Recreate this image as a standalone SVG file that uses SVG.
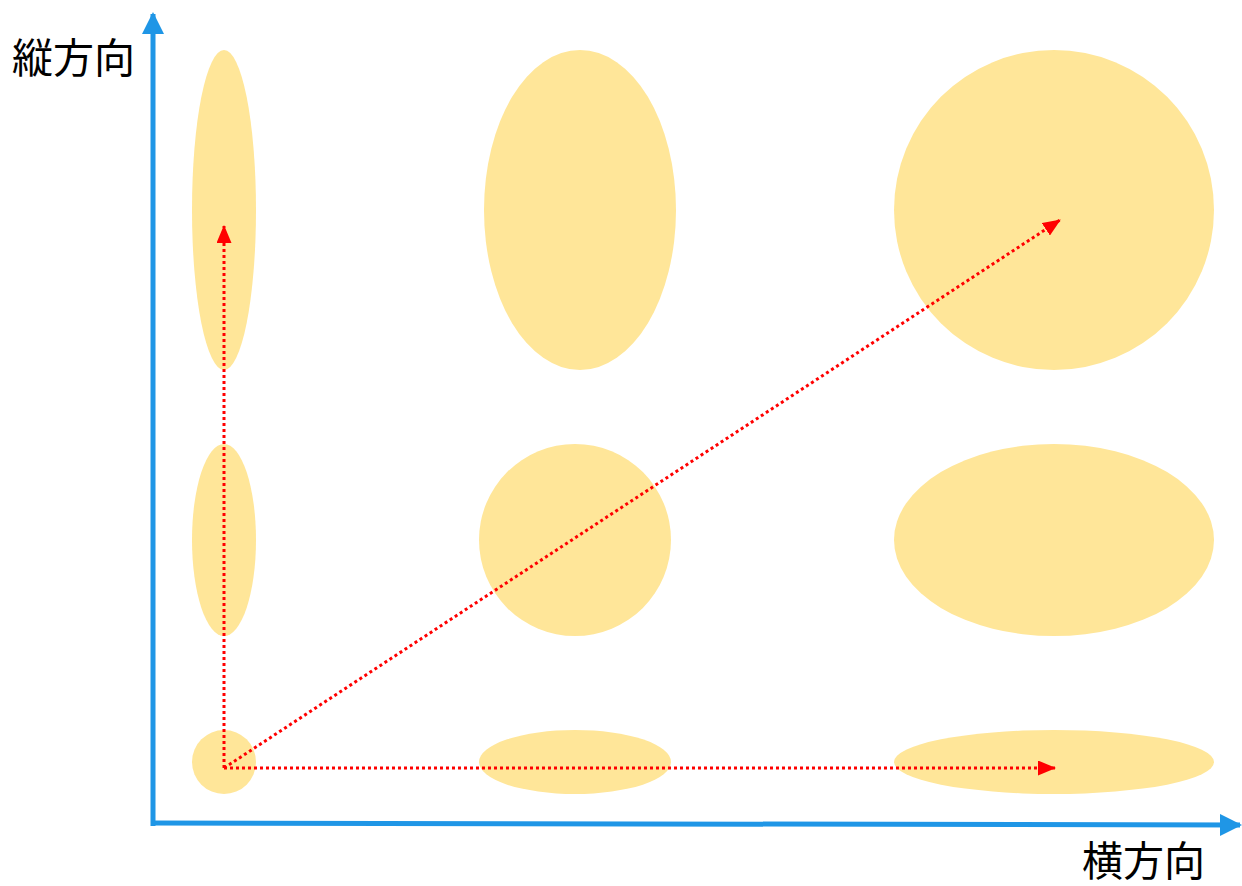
<svg xmlns="http://www.w3.org/2000/svg" width="1242" height="886" viewBox="0 0 1242 886">
<style>
.e{fill:#FFE699}
.ax{stroke:#1F96E6;stroke-width:5;fill:none}
.r{stroke:#FF0000;stroke-width:3;stroke-dasharray:3 3;fill:none}
.t{font-family:"Noto Sans CJK JP",sans-serif;font-size:41px;fill:#000}
</style>
<defs>
<marker id="ra" markerUnits="userSpaceOnUse" markerWidth="18" markerHeight="15" refX="17" refY="7.5" orient="auto"><path d="M0,0L18,7.5L0,15Z" fill="#FF0000"/></marker>
<marker id="ba" markerUnits="userSpaceOnUse" markerWidth="22" markerHeight="22" refX="20" refY="11" orient="auto"><path d="M0,0L22,11L0,22Z" fill="#1F96E6"/></marker>
</defs>
<g id="nodes">
<g id="n11"><ellipse class="e" cx="224" cy="210" rx="32" ry="160"/></g>
<g id="n12"><ellipse class="e" cx="224" cy="540" rx="32" ry="96"/></g>
<g id="n13"><ellipse class="e" cx="224" cy="762" rx="32" ry="32"/></g>
<g id="n21"><ellipse class="e" cx="580" cy="210" rx="96" ry="160"/></g>
<g id="n22"><ellipse class="e" cx="575" cy="540" rx="96" ry="96"/></g>
<g id="n23"><ellipse class="e" cx="575" cy="762" rx="96" ry="32"/></g>
<g id="n31"><ellipse class="e" cx="1054" cy="210" rx="160" ry="160"/></g>
<g id="n32"><ellipse class="e" cx="1054" cy="540" rx="160" ry="96"/></g>
<g id="n33"><ellipse class="e" cx="1054" cy="762" rx="160" ry="32"/></g>
</g>
<g id="connectors">
<line class="ax" x1="153" y1="826" x2="153" y2="14" marker-end="url(#ba)"/>
<line class="ax" x1="151" y1="823" x2="1240" y2="825" marker-end="url(#ba)"/>
<line class="r" x1="224" y1="768" x2="224" y2="226" marker-end="url(#ra)"/>
<line class="r" x1="224" y1="768" x2="1055" y2="768" marker-end="url(#ra)"/>
<line class="r" x1="224" y1="768" x2="1060" y2="220" marker-end="url(#ra)"/>
</g>
<g id="labels">
<text class="t" x="12" y="73">縦方向</text>
<text class="t" x="1082" y="876">横方向</text>
</g>
</svg>
